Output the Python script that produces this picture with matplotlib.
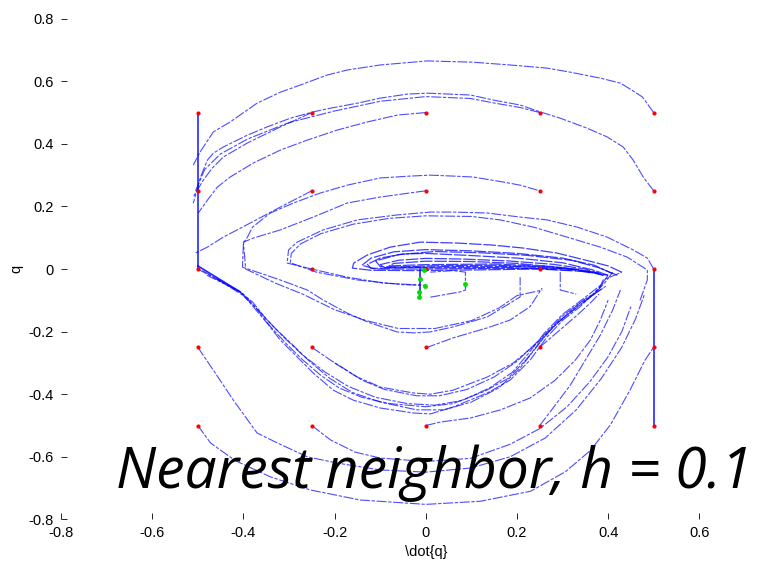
import numpy as np
import matplotlib
matplotlib.use("Agg")
import matplotlib.pyplot as plt

# start states (grid of qdot, q)
start_qdot = [-0.5, -0.25, 0.0, 0.25, 0.5]
start_q = [-0.5, -0.25, 0.0, 0.25, 0.5]

# end states near the goal
end_pts = [(-0.003, -0.003), (-0.012, -0.032), (-0.001, -0.054),
           (-0.014, -0.073), (-0.014, -0.089), (0.087, -0.048)]

# traced trajectories, (qdot, q)
traj_a = [(0.5, 0.5), (0.475, 0.55), (0.455, 0.569), (0.427, 0.594), (0.383, 0.61), (0.317, 0.629),
          (0.266, 0.642), (0.185, 0.652), (0.102, 0.661), (0.003, 0.665), (-0.10, 0.652), (-0.172, 0.636),
          (-0.216, 0.62), (-0.275, 0.588), (-0.319, 0.565), (-0.37, 0.53), (-0.429, 0.47), (-0.466, 0.438),
          (-0.495, 0.374), (-0.51, 0.332)]
traj_b = [(0.5, 0.25), (0.477, 0.294), (0.455, 0.348), (0.433, 0.39), (0.398, 0.422), (0.354, 0.45),
          (0.295, 0.482), (0.251, 0.502), (0.207, 0.524), (0.148, 0.54), (0.098, 0.556), (0.003, 0.562),
          (-0.04, 0.559), (-0.10, 0.546), (-0.15, 0.53), (-0.209, 0.514), (-0.247, 0.502), (-0.297, 0.482),
          (-0.348, 0.454), (-0.391, 0.428), (-0.444, 0.39), (-0.466, 0.37), (-0.479, 0.348), (-0.494, 0.294),
          (-0.51, 0.21)]
traj_c = [(0.25, 0.5), (0.207, 0.516), (0.148, 0.531), (0.098, 0.545), (0.0, 0.551), (-0.1, 0.536),
          (-0.2, 0.505), (-0.3, 0.468), (-0.39, 0.416), (-0.45, 0.368), (-0.485, 0.318), (-0.505, 0.25)]
traj_d = [(0.0, 0.5), (-0.062, 0.492), (-0.128, 0.47), (-0.194, 0.444), (-0.26, 0.412), (-0.319, 0.38),
          (-0.378, 0.339), (-0.429, 0.294), (-0.457, 0.262), (-0.479, 0.22), (-0.499, 0.179)]
traj_e = [(-0.25, 0.5), (-0.319, 0.454), (-0.391, 0.403), (-0.444, 0.358), (-0.468, 0.323),
          (-0.488, 0.284), (-0.51, 0.23)]
traj_f = [(-0.25, 0.25), (-0.319, 0.198), (-0.385, 0.147), (-0.444, 0.102), (-0.479, 0.07), (-0.505, 0.051)]
traj_g = [(0.245, 0.252), (0.207, 0.268), (0.17, 0.278), (0.104, 0.294), (0.06, 0.297), (0.01, 0.30),
          (-0.034, 0.297), (-0.10, 0.291), (-0.172, 0.268), (-0.231, 0.243), (-0.29, 0.211), (-0.341, 0.179),
          (-0.38, 0.134), (-0.391, 0.102), (-0.40, 0.083), (-0.402, 0.006), (-0.319, -0.035), (-0.26, -0.067),
          (-0.225, -0.099), (-0.172, -0.141), (-0.128, -0.169), (-0.063, -0.201), (-0.027, -0.204),
          (0.01, -0.201), (0.06, -0.185), (0.135, -0.153), (0.185, -0.109), (0.207, -0.089), (0.207, -0.026)]
traj_h = [(0.0, 0.25), (-0.1, 0.23), (-0.172, 0.211), (-0.247, 0.166), (-0.319, 0.125), (-0.378, 0.099),
          (-0.40, 0.086), (-0.395, 0.0), (-0.33, -0.045), (-0.27, -0.08), (-0.2, -0.13), (-0.13, -0.165),
          (-0.06, -0.19), (0.02, -0.19), (0.1, -0.165), (0.16, -0.125), (0.2, -0.085), (0.256, -0.067)]
traj_i1 = [(0.5, 0.0), (0.486, 0.035), (0.455, 0.061), (0.398, 0.102), (0.332, 0.134), (0.266, 0.157),
           (0.207, 0.166), (0.135, 0.179), (0.06, 0.182), (0.01, 0.182), (-0.062, 0.173), (-0.15, 0.157),
           (-0.225, 0.125), (-0.282, 0.086), (-0.301, 0.061), (-0.304, 0.019), (-0.25, 0.0),
           (-0.172, -0.026), (-0.093, -0.045), (-0.012, -0.051)]
traj_i2 = [(0.47, -0.1), (0.486, -0.035), (0.486, -0.003), (0.442, 0.038), (0.383, 0.07), (0.31, 0.102),
           (0.236, 0.134), (0.163, 0.157), (0.1, 0.168), (0.0, 0.17), (-0.08, 0.162), (-0.16, 0.143),
           (-0.23, 0.113), (-0.275, 0.08), (-0.295, 0.05), (-0.297, 0.02), (-0.24, -0.01), (-0.15, -0.035),
           (-0.05, -0.05), (0.0, -0.052)]
traj_u1 = [(-0.5, 0.0), (-0.407, -0.073), (-0.385, -0.109), (-0.348, -0.173), (-0.319, -0.227),
           (-0.282, -0.281), (-0.247, -0.332), (-0.203, -0.387), (-0.159, -0.419), (-0.10, -0.444),
           (-0.027, -0.46), (0.01, -0.463), (0.06, -0.441), (0.135, -0.396), (0.185, -0.355), (0.229, -0.291),
           (0.266, -0.217), (0.301, -0.163), (0.338, -0.121), (0.382, -0.058), (0.389, -0.035), (0.43, -0.01)]
traj_u2 = [(-0.49, -0.005), (-0.40, -0.08), (-0.375, -0.12), (-0.34, -0.185), (-0.305, -0.24),
           (-0.27, -0.29), (-0.23, -0.34), (-0.19, -0.38), (-0.14, -0.41), (-0.08, -0.43), (0.0, -0.44),
           (0.06, -0.43), (0.13, -0.39), (0.18, -0.35), (0.22, -0.29), (0.255, -0.225), (0.29, -0.17),
           (0.33, -0.125), (0.37, -0.08), (0.395, -0.04), (0.41, -0.01)]
traj_u3 = [(-0.48, -0.02), (-0.41, -0.07), (-0.38, -0.105), (-0.35, -0.16), (-0.31, -0.22),
           (-0.27, -0.275), (-0.22, -0.33), (-0.17, -0.375), (-0.11, -0.41), (-0.04, -0.43), (0.02, -0.435),
           (0.08, -0.42), (0.14, -0.38), (0.19, -0.33), (0.225, -0.27), (0.26, -0.205), (0.3, -0.145),
           (0.35, -0.09), (0.385, -0.05), (0.40, -0.02)]
traj_u4 = [(-0.46, -0.03), (-0.40, -0.085), (-0.365, -0.135), (-0.33, -0.19), (-0.29, -0.245),
           (-0.255, -0.295), (-0.21, -0.35), (-0.16, -0.395), (-0.1, -0.425), (-0.02, -0.45), (0.04, -0.45),
           (0.1, -0.425), (0.16, -0.38), (0.205, -0.32), (0.24, -0.255), (0.275, -0.19), (0.32, -0.135),
           (0.36, -0.09), (0.395, -0.055)]
traj_m1 = [(-0.25, -0.25), (-0.209, -0.291), (-0.15, -0.345), (-0.10, -0.377), (-0.027, -0.396),
           (0.01, -0.40), (0.06, -0.387), (0.135, -0.345), (0.192, -0.30), (0.245, -0.236), (0.295, -0.163),
           (0.338, -0.109), (0.367, -0.083), (0.389, -0.045)]
traj_m2 = [(-0.2, -0.3), (-0.14, -0.355), (-0.09, -0.385), (-0.02, -0.405), (0.03, -0.405), (0.09, -0.385),
           (0.15, -0.345), (0.2, -0.295), (0.25, -0.225), (0.3, -0.15), (0.35, -0.095), (0.39, -0.06)]
traj_s1 = [(0.43, -0.01), (0.40, 0.01), (0.36, 0.025), (0.288, 0.051), (0.214, 0.067), (0.142, 0.077),
           (0.069, 0.083), (-0.012, 0.086), (-0.078, 0.07), (-0.128, 0.045), (-0.158, 0.019), (-0.161, 0.003),
           (-0.12, -0.004), (-0.03, -0.005), (0.1, -0.003), (0.25, 0.0), (0.35, -0.008), (0.40, -0.02)]
traj_s2 = [(0.40, -0.02), (0.367, -0.003), (0.3, 0.02), (0.2, 0.035), (0.1, 0.043), (0.0, 0.05),
           (-0.05, 0.048), (-0.1, 0.035), (-0.128, 0.015), (-0.12, 0.002), (-0.05, 0.004), (0.05, 0.008),
           (0.2, 0.008), (0.33, 0.0), (0.39, -0.02)]
traj_s3 = [(0.39, -0.02), (0.35, 0.0), (0.28, 0.015), (0.18, 0.026), (0.08, 0.032), (0.0, 0.034),
           (-0.06, 0.028), (-0.1, 0.014), (-0.09, 0.004), (0.0, 0.01), (0.15, 0.012), (0.3, 0.005), (0.37, -0.01)]
traj_s4 = [(0.36, -0.012), (0.3, 0.004), (0.2, 0.018), (0.1, 0.024), (0.0, 0.025), (-0.07, 0.018),
           (-0.08, 0.01), (0.0, 0.014), (0.15, 0.016), (0.28, 0.008)]
traj_s5 = [(0.41, -0.015), (0.37, 0.012), (0.3, 0.035), (0.2, 0.05), (0.1, 0.058), (0.0, 0.062),
           (-0.07, 0.055), (-0.12, 0.035), (-0.14, 0.012), (-0.11, 0.0), (0.0, 0.0), (0.15, 0.002),
           (0.3, 0.002), (0.38, -0.012)]
traj_s6 = [(0.42, -0.02), (0.38, 0.004), (0.32, 0.028), (0.22, 0.044), (0.12, 0.052), (0.02, 0.056),
           (-0.06, 0.046), (-0.11, 0.026), (-0.1, 0.008), (0.02, 0.004), (0.18, 0.005), (0.32, -0.004)]
traj_bo1 = [(-0.5, -0.5), (-0.472, -0.556), (-0.418, -0.612), (-0.341, -0.664), (-0.253, -0.706),
            (-0.144, -0.738), (0.0, -0.752), (0.12, -0.742), (0.23, -0.71), (0.306, -0.648), (0.361, -0.58),
            (0.405, -0.498), (0.448, -0.387), (0.481, -0.291), (0.5, -0.25)]
traj_bo2 = [(-0.25, -0.5), (-0.209, -0.546), (-0.155, -0.585), (-0.10, -0.604), (0.0, -0.615),
            (0.098, -0.605), (0.185, -0.56), (0.25, -0.51), (0.31, -0.44), (0.36, -0.36), (0.40, -0.28),
            (0.43, -0.2), (0.45, -0.12)]
traj_bo3 = [(-0.5, -0.25), (-0.466, -0.323), (-0.422, -0.419), (-0.37, -0.524), (-0.325, -0.556),
            (-0.26, -0.60), (-0.194, -0.62), (-0.10, -0.642), (0.0, -0.649), (0.098, -0.636), (0.185, -0.60),
            (0.262, -0.54), (0.33, -0.45), (0.385, -0.35), (0.43, -0.25), (0.46, -0.16), (0.48, -0.08)]
traj_bo4 = [(0.0, -0.5), (0.032, -0.489), (0.098, -0.476), (0.164, -0.45), (0.229, -0.412), (0.284, -0.355),
            (0.328, -0.291), (0.361, -0.227), (0.383, -0.163), (0.4, -0.099)]
traj_bo5 = [(0.25, -0.5), (0.284, -0.435), (0.317, -0.371), (0.35, -0.291), (0.383, -0.211),
            (0.41, -0.131), (0.427, -0.067)]
traj_r1 = [(0.25, -0.25), (0.29, -0.2), (0.33, -0.15), (0.36, -0.11), (0.38, -0.08)]
traj_r2 = [(0.0, -0.252), (0.06, -0.22), (0.135, -0.188), (0.185, -0.163), (0.229, -0.12), (0.255, -0.061)]
traj_o1 = [(0.01, -0.09), (0.076, -0.073), (0.087, -0.067), (0.087, -0.01), (0.06, -0.005), (0.01, -0.01)]
traj_v1 = [(0.295, -0.01), (0.295, -0.067), (0.33, -0.08)]

thin_trajs = [traj_a, traj_b, traj_c, traj_d, traj_e, traj_f, traj_g, traj_h, traj_i1, traj_i2,
              traj_u1, traj_u2, traj_u3, traj_u4, traj_m1, traj_m2, traj_bo1, traj_bo2, traj_bo3,
              traj_bo4, traj_bo5, traj_r1, traj_r2, traj_o1, traj_v1]
spiral_trajs = [traj_s1, traj_s2, traj_s3, traj_s4, traj_s5, traj_s6]

# solid segments (vertical jumps, bold diagonal)
solid_segs = [[(-0.5, 0.5), (-0.5, 0.0)], [(0.5, -0.5), (0.5, 0.0)],
              [(-0.5, 0.01), (-0.407, -0.073)], [(-0.012, 0.0), (-0.012, -0.09)]]

fig = plt.figure(figsize=(7.63, 5.62), dpi=100)
ax = fig.add_axes([0.080, 0.0758, 0.956, 0.891])

for tr in thin_trajs:
    xs, ys = zip(*tr)
    ax.plot(xs, ys, color='blue', lw=0.8, alpha=0.7, ls=(0, (9, 1.5, 3, 1.5)))
for tr in spiral_trajs:
    xs, ys = zip(*tr)
    ax.plot(xs, ys, color='blue', lw=0.9, alpha=0.75, ls=(0, (10, 1.5)))
for seg in solid_segs:
    xs, ys = zip(*seg)
    ax.plot(xs, ys, color='blue', lw=1.2, alpha=0.85)

gx, gy = np.meshgrid(start_qdot, start_q)
ax.plot(gx.ravel(), gy.ravel(), 'r.', ms=4)
ex, ey = zip(*end_pts)
ax.plot(ex, ey, '.', color='#00dd00', ms=5)

ax.set_xlim(-0.8, 0.8)
ax.set_ylim(-0.8, 0.8)
ax.set_xticks([-0.8, -0.6, -0.4, -0.2, 0, 0.2, 0.4, 0.6])
ax.set_xticklabels(['-0.8', '-0.6', '-0.4', '-0.2', '0', '0.2', '0.4', '0.6'])
ax.set_yticks([-0.8, -0.6, -0.4, -0.2, 0, 0.2, 0.4, 0.6, 0.8])
ax.set_yticklabels(['-0.8', '-0.6', '-0.4', '-0.2', '0', '0.2', '0.4', '0.6', '0.8'])
for s in ax.spines.values():
    s.set_visible(False)
ax.tick_params(direction='in', length=4, width=0.6, labelsize=10.5, pad=5)
for lab in ax.get_xticklabels() + ax.get_yticklabels():
    lab.set_family('Liberation Sans')
ax.set_xlabel('\\dot{q}', fontsize=10.5, family='Liberation Sans', labelpad=3)
ax.set_ylabel('q', fontsize=10.5, family='Liberation Sans', labelpad=4)

fig.text(116 / 763, (562 - 488) / 562, 'Nearest neighbor, h = 0.1', fontsize=41,
         style='italic', family='Open Sans', va='baseline', ha='left')

fig.savefig('out.png', dpi=100)
